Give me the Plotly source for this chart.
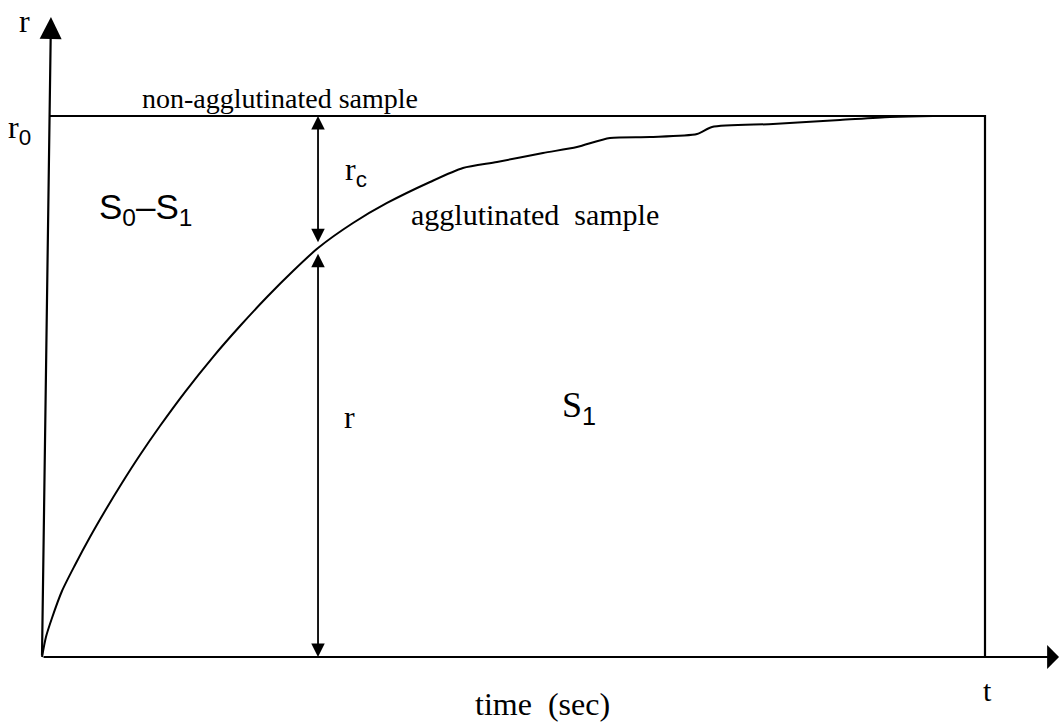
import plotly.graph_objects as go

# Agglutination curve r(t); time is scaled so the run ends at t = 1 and
# r is scaled so the non-agglutinated level r0 equals 1.
t_curve = [0.0, 0.0042, 0.0106, 0.0212, 0.0350, 0.0509, 0.0668, 0.0848, 0.1039,
           0.1251, 0.1516, 0.1813, 0.2100, 0.2386, 0.2662, 0.2927, 0.3298, 0.3659,
           0.4115, 0.4464, 0.4825, 0.5313, 0.5673, 0.6023, 0.6448, 0.6946, 0.7105,
           0.7752, 0.8462, 0.8992, 0.9449, 1.0]
r_curve = [0.0, 0.0370, 0.0721, 0.1220, 0.1701, 0.2218, 0.2699, 0.3216, 0.3734,
           0.4270, 0.4898, 0.5545, 0.6118, 0.6654, 0.7135, 0.7560, 0.8022, 0.8392,
           0.8780, 0.9039, 0.9150, 0.9316, 0.9427, 0.9593, 0.9612, 0.9667, 0.9797,
           0.9852, 0.9926, 0.9982, 1.0, 1.0]

# non-agglutinated level and end of the measurement
r0 = 1.0
t_end = 1.0
t_read = 0.2927
r_read = 0.7560

SERIF = "Liberation Serif, Times New Roman, serif"
SANS = "Liberation Sans, Arial, sans-serif"
W, H = 1060, 727

fig = go.Figure()

# reference level r0 and closing edge at t
fig.add_trace(go.Scatter(x=[0.0077, t_end, t_end], y=[r0, r0, 0], mode="lines",
                         line=dict(color="black", width=2.2), hoverinfo="skip"))
# agglutinated sample curve
fig.add_trace(go.Scatter(x=t_curve, y=r_curve, mode="lines",
                         line=dict(color="black", width=2, shape="spline", smoothing=0.7),
                         hoverinfo="skip"))


def arrow(x_tip, y_tip, x_tail, y_tail, width, size, head=2, both=False):
    fig.add_annotation(x=x_tip, y=y_tip, ax=x_tail, ay=y_tail,
                       xref="x", yref="y", axref="x", ayref="y",
                       text="", showarrow=True, arrowhead=head, startarrowhead=head,
                       arrowside="end+start" if both else "end",
                       arrowwidth=width, arrowsize=size, startarrowsize=size,
                       arrowcolor="black", standoff=0, startstandoff=0)


# axes
arrow(0.0095, 1.183, 0.0, 0.0, 2.2, 2.0)
arrow(1.0785, 0.0, 0.0, 0.0, 2.2, 1.8, head=1)
# r_c between the curve and r0, r between the axis and the curve
arrow(t_read, r0, t_read, r_read + 0.008, 1.8, 1.5, both=True)
arrow(t_read, 0.0, t_read, r_read - 0.008, 1.8, 1.5, both=True)


def label(text, px, py, size, family=SERIF, xanchor="center"):
    fig.add_annotation(x=px / W, y=1 - py / H, xref="paper", yref="paper",
                       text=text, showarrow=False, xanchor=xanchor, yanchor="middle",
                       font=dict(family=family, size=size, color="black"))


def sans(s):
    return f"<span style='font-family:{SANS}'>{s}</span>"


label("r", 24, 21, 32)
label("r<sub>" + sans("0") + "</sub>", 6, 130, 32, xanchor="left")
label("non-agglutinated sample", 280, 98, 28)
label("agglutinated  sample", 535, 214, 30)
label("S<sub>0</sub>–S<sub>1</sub>", 145, 209, 35, family=SANS)
label("S<sub>" + sans("1") + "</sub>", 579, 407, 36)
label("r<sub>" + sans("c") + "</sub>", 356, 172, 32)
label("r", 349, 417, 32)
label("t", 987, 690, 30)
label("time  (sec)", 542, 704, 32)

fig.update_xaxes(range=[-42 / 943, 1018 / 943], visible=False, fixedrange=True)
fig.update_yaxes(range=[-70 / 541, 657 / 541], visible=False, fixedrange=True)
fig.update_layout(width=W, height=H, margin=dict(l=0, r=0, t=0, b=0),
                  paper_bgcolor="white", plot_bgcolor="white", showlegend=False)

fig.write_html("out.html")
